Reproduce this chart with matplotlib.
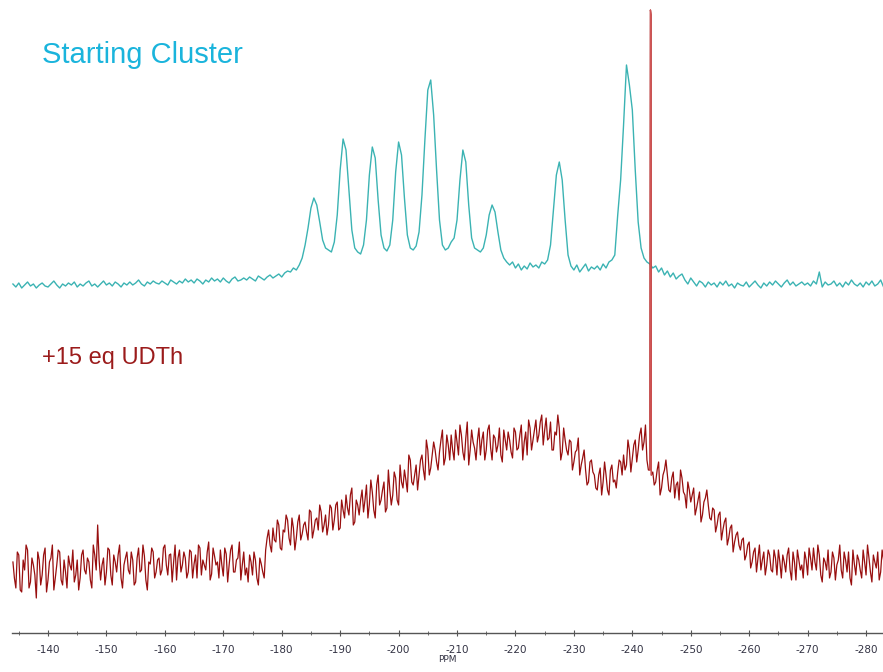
import matplotlib
matplotlib.use("Agg")
import matplotlib.pyplot as plt
from matplotlib.ticker import MultipleLocator
import numpy as np

# chemical shift grid (ppm), 0.5 ppm steps from -134 to -283
ppm = np.arange(-134.0, -283.01, -0.5)
# in-between points for the noisier UDTh trace
ppm_mid = ppm[:-1] - 0.25

# starting cluster trace (arbitrary intensity)
top_vals = [
    6, 3, 7, 2, 5, 8, 4, 6, 2, 5,
    7, 4, 3, 6, 9, 5, 2, 6, 4, 7,
    5, 8, 3, 6, 4, 7, 9, 4, 6, 3,
    6, 9, 5, 7, 4, 8, 6, 3, 7, 5,
    8, 5, 7, 10, 6, 4, 8, 6, 9, 7,
    6, 9, 7, 5, 10, 8, 6, 9, 7, 11,
    8, 10, 7, 11, 9, 6, 10, 8, 12, 9,
    11, 8, 12, 9, 7, 11, 13, 9, 10, 12,
    10, 13, 11, 9, 14, 12, 10, 13, 15, 12,
    14, 16, 13, 17, 19, 18, 22, 20, 25, 32,
    45, 62, 82, 92, 85, 68, 50, 42, 40, 38,
    48, 75, 120, 151, 140, 100, 60, 42, 38, 36,
    45, 70, 115, 143, 132, 90, 55, 42, 39, 45,
    70, 118, 148, 135, 92, 55, 42, 40, 44, 58,
    95, 150, 200, 210, 175, 120, 70, 45, 40, 42,
    48, 52, 70, 110, 140, 128, 85, 52, 42, 40,
    38, 42, 55, 75, 85, 78, 58, 40, 32, 28,
    25, 28, 22, 26, 20, 24, 21, 27, 23, 25,
    22, 28, 26, 30, 45, 80, 115, 128, 110, 70,
    35, 24, 20, 25, 18, 22, 26, 19, 23, 21,
    24, 20, 26, 22, 28, 30, 35, 75, 110, 165,
    225, 205, 180, 120, 68, 42, 32, 28, 26, 22,
    24, 18, 22, 15, 19, 13, 17, 11, 14, 16,
    10, 6, 12, 8, 4, 9, 7, 3, 8, 5,
    7, 3, 8, 5, 9, 4, 6, 2, 7, 5,
    4, 8, 3, 6, 9, 5, 2, 7, 4, 8,
    5, 9, 6, 3, 7, 10, 5, 8, 4, 6,
    8, 5, 7, 4, 9, 6, 18, 3, 8, 5,
    6, 9, 4, 7, 3, 8, 5, 10, 6, 4,
    7, 3, 8, 5, 9, 4, 6, 10, 3,
]

# +15 eq UDTh trace (arbitrary intensity), on the 0.5 ppm grid
bottom_vals = [
    38, 12, 45, 8, 30, 50, 18, 35, 2, 40,
    25, 52, 20, 42, 10, 35, 48, 15, 28, 44,
    30, 18, 40, 22, 50, 26, 38, 12, 45, 75,
    20, 42, 28, 50, 15, 38, 45, 22, 35, 48,
    26, 40, 18, 52, 30, 44, 10, 36, 48, 28,
    42, 30, 55, 25, 46, 38, 20, 50, 35, 42,
    28, 48, 36, 22, 52, 40, 30, 58, 26, 44,
    38, 50, 24, 46, 35, 55, 28, 42, 20, 48,
    32, 45, 25, 40, 15, 36, 22, 62, 55, 72,
    58, 75, 50, 68, 80, 55, 72, 62, 85, 66,
    78, 60, 88, 70, 82, 95, 68, 85, 75, 92,
    80, 98, 72, 90, 105, 85, 112, 78, 95, 100,
    88, 115, 96, 108, 82, 125, 100, 118, 92, 110,
    105, 122, 95, 118, 130, 108, 140, 115, 135, 125,
    145, 120, 150, 132, 158, 138, 148, 170, 142, 155,
    165, 140, 158, 175, 148, 162, 135, 170, 152, 160,
    145, 168, 150, 175, 140, 162, 155, 145, 170, 150,
    160, 142, 168, 152, 175, 158, 145, 172, 160, 180,
    165, 185, 170, 160, 178, 150, 165, 172, 148, 160,
    145, 158, 138, 150, 125, 142, 130, 118, 140, 125,
    110, 132, 118, 125, 105, 135, 120, 128, 138, 145,
    135, 150, 142, 160, 150, 172, 158, 140, 130, 128,
    118, 138, 112, 130, 125, 108, 128, 115, 100, 122,
    105, 118, 98, 112, 92, 108, 85, 102, 95, 80,
    90, 75, 88, 70, 82, 62, 75, 58, 68, 50,
    62, 45, 58, 38, 52, 42, 30, 48, 35, 45,
    28, 42, 50, 22, 38, 45, 30, 48, 20, 40,
    35, 48, 25, 42, 52, 30, 45, 18, 38, 50,
    28, 42, 35, 55, 22, 40, 48, 15, 36, 45,
    30, 50, 25, 42, 18, 38, 48, 28, 40,
]

# +15 eq UDTh trace, points between the 0.5 ppm grid
bottom_mid_vals = [
    22, 48, 10, 40, 55, 12, 42, 25, 48, 15,
    45, 8, 38, 55, 22, 50, 20, 40, 12, 35,
    50, 25, 10, 45, 30, 42, 20, 55, 30, 40,
    35, 15, 52, 25, 45, 28, 55, 12, 42, 30,
    48, 15, 42, 28, 55, 20, 38, 52, 22, 40,
    25, 52, 35, 45, 18, 55, 42, 28, 48, 22,
    50, 22, 45, 55, 25, 35, 48, 20, 52, 35,
    22, 35, 52, 18, 50, 28, 40, 58, 35, 25,
    18, 38, 48, 22, 42, 28, 50, 70, 48, 60,
    80, 52, 70, 85, 62, 82, 50, 78, 60, 75,
    68, 90, 62, 80, 70, 88, 75, 65, 95, 70,
    95, 70, 100, 82, 92, 105, 75, 100, 85, 110,
    100, 82, 120, 90, 115, 95, 110, 88, 130, 95,
    128, 100, 135, 112, 120, 145, 118, 125, 110, 140,
    130, 160, 125, 145, 150, 130, 160, 135, 165, 140,
    150, 170, 145, 165, 140, 178, 150, 158, 140, 172,
    160, 140, 170, 152, 165, 148, 172, 138, 160, 168,
    148, 172, 150, 165, 140, 168, 180, 150, 170, 158,
    178, 155, 182, 162, 150, 168, 185, 140, 172, 150,
    160, 130, 148, 162, 135, 150, 115, 138, 128, 112,
    125, 105, 138, 110, 130, 118, 112, 140, 125, 130,
    160, 128, 155, 138, 165, 150, 175, 130, 125, 115,
    130, 105, 125, 140, 110, 122, 102, 118, 130, 108,
    92, 110, 105, 85, 100, 78, 98, 110, 82, 92,
    68, 85, 60, 78, 55, 72, 48, 65, 55, 60,
    40, 55, 32, 48, 28, 55, 40, 25, 50, 30,
    50, 25, 38, 45, 28, 52, 20, 38, 50, 30,
    22, 40, 52, 30, 38, 55, 25, 42, 30, 22,
    48, 20, 40, 30, 48, 28, 22, 50, 25, 40,
    22, 38, 55, 28, 45, 32, 20, 50,
]

# sharp single line in the UDTh spectrum
spike_ppm = [-243.1, -243.2]
spike_vals = [590, 585]

tick_values = np.arange(-140, -281, -10)

top_offset = 382
bottom_offset = 72


def merge_points(xs_list, ys_list):
    xs = np.concatenate([np.asarray(x, dtype=float) for x in xs_list])
    ys = np.concatenate([np.asarray(y, dtype=float) for y in ys_list])
    order = np.argsort(-xs)
    return xs[order], ys[order]


def main() -> None:
    fig = plt.figure(figsize=(8.83, 6.72), dpi=100)
    ax = fig.add_axes([12 / 883, 39 / 672, 871 / 883, 633 / 672])

    ax.plot(ppm, np.array(top_vals) + top_offset, color="#3bb3b3", linewidth=1.0)

    bx, by = merge_points([ppm, ppm_mid, spike_ppm], [bottom_vals, bottom_mid_vals, spike_vals])
    ax.plot(bx, by + bottom_offset, color="#980f0f", linewidth=0.9)

    # the narrow line is drawn lighter, as in the spectrum viewer
    sel = (bx <= -243.0) & (bx >= -243.25)
    ax.plot(bx[sel], by[sel] + bottom_offset, color="#d05555", linewidth=0.9)

    ax.set_xlim(-133.84, -282.9)
    ax.set_ylim(39, 672)

    for side in ["top", "left", "right"]:
        ax.spines[side].set_visible(False)
    ax.spines["bottom"].set_color("#555555")
    ax.spines["bottom"].set_linewidth(1.0)

    ax.set_yticks([])
    ax.set_xticks(tick_values)
    ax.set_xticklabels([str(v) for v in tick_values])
    ax.xaxis.set_minor_locator(MultipleLocator(5))
    ax.tick_params(axis="x", which="major", direction="inout", length=5,
                   color="#555555", labelsize=7.5, labelcolor="#333344", pad=6)
    ax.tick_params(axis="x", which="minor", direction="inout", length=3, color="#555555")
    ax.set_xlabel("PPM", fontsize=6.5, color="#333344", labelpad=0)

    fig.text(42 / 883, 1 - 63 / 672, "Starting Cluster", fontsize=21,
             family="Liberation Sans", color="#1ab4dc", va="baseline", ha="left")
    fig.text(42 / 883, 1 - 364 / 672, "+15 eq UDTh", fontsize=17,
             family="Liberation Sans", color="#9b1b1b", va="baseline", ha="left")

    fig.savefig("out.png", dpi=100)
    plt.close(fig)


if __name__ == "__main__":
    main()
